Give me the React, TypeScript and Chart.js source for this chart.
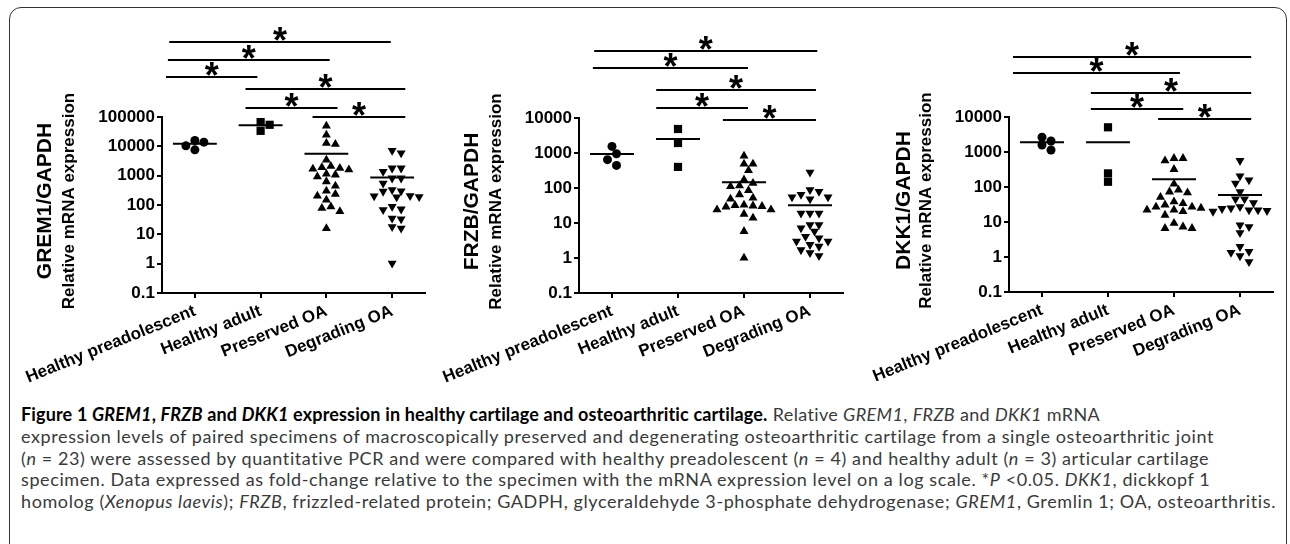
import React, { useEffect, useRef } from 'react';
import { Chart, registerables } from 'chart.js';

Chart.register(...registerables);

// ---------- data ----------
const groups = ['Healthy preadolescent', 'Healthy adult', 'Preserved OA', 'Degrading OA'];
const yTicksGrem = [0.1, 1, 10, 100, 1000, 10000, 100000];
const yTicksSmall = [0.1, 1, 10, 100, 1000, 10000];

const grem1Preadolescent = [13900, 7600, 15800, 10400];
const grem1Adult = [67000, 33800, 54200];
const grem1Preserved = [50000, 24500, 11900, 12900, 3460, 1800, 2100, 1600, 1900, 1700, 1070, 1150, 930, 630, 450, 300, 233, 204, 149, 78, 88, 60, 16];
const grem1Degrading = [7200, 5900, 1800, 1800, 1380, 820, 820, 550, 330, 300, 290, 204, 200, 190, 185, 88, 72, 68, 35, 33, 18, 16, 1.03];
const grem1Means = [12200, 52800, 5550, 860];
const grem1Brackets = [[-0.39, 2.98], [-0.41, 2.05], [-0.44, 0.95], [0.77, 3.2], [0.77, 2.17], [1.79, 3.2]];

const frzbPreadolescent = [1540, 955, 443, 645];
const frzbAdult = [4850, 1930, 400];
const frzbPreserved = [830, 490, 490, 318, 173, 138, 111, 116, 85, 65, 52, 48.5, 33, 31, 30, 32, 29, 24, 24, 18, 14, 5.8, 1.0];
const frzbDegrading = [280, 89, 79, 65, 55, 55, 48.5, 19, 19, 19, 8.9, 8.9, 7.2, 5.8, 4.1, 3.7, 3.0, 3.0, 2.4, 2.14, 1.7, 1.4, 1.16];
const frzbMeans = [930, 2510, 145, 32];
const frzbBrackets = [[-0.27, 3.11], [-0.29, 2.06], [0.67, 3.09], [0.67, 2.06], [1.68, 3.09]];

const dkk1Preadolescent = [2060, 2630, 1140, 1585];
const dkk1Adult = [5080, 141, 245];
const dkk1Preserved = [660, 660, 565, 320, 122, 82, 69, 73, 51, 31, 34, 27, 27, 38, 22, 22, 25, 20, 15.8, 9.2, 7.3, 6.6, 6.6];
const dkk1Degrading = [565, 206, 158, 128, 73, 45, 45, 35, 27, 22, 20, 24, 22, 25, 21, 8.2, 7.3, 4.9, 1.97, 1.42, 1.33, 1.07, 0.73];
const dkk1Means = [1890, 1890, 166, 59];
const dkk1Brackets = [[-0.44, 3.17], [-0.44, 2.09], [0.74, 3.17], [0.74, 2.14], [1.76, 3.17]];

// ---------- panel layout (pixels) ----------
const panels = [
  {
    title: 'GREM1/GAPDH',
    values: [grem1Preadolescent, grem1Adult, grem1Preserved, grem1Degrading],
    means: grem1Means,
    brackets: grem1Brackets,
    yTicks: yTicksGrem,
    canvasLeft: 0, canvasWidth: 432, canvasHeight: 400,
    area: { left: 162, right: 425, top: 117, bottom: 293 },
    rise: [75, 57, 40, 28, 9, 0],
    titleDx: [-117, -93],
  },
  {
    title: 'FRZB/GAPDH',
    values: [frzbPreadolescent, frzbAdult, frzbPreserved, frzbDegrading],
    means: frzbMeans,
    brackets: frzbBrackets,
    yTicks: yTicksSmall,
    canvasLeft: 415, canvasWidth: 435, canvasHeight: 400,
    area: { left: 164, right: 428, top: 118, bottom: 293 },
    rise: [67, 50, 28, 10, -2],
    titleDx: [-107, -83],
  },
  {
    title: 'DKK1/GAPDH',
    values: [dkk1Preadolescent, dkk1Adult, dkk1Preserved, dkk1Degrading],
    means: dkk1Means,
    brackets: dkk1Brackets,
    yTicks: yTicksSmall,
    canvasLeft: 850, canvasWidth: 440, canvasHeight: 400,
    area: { left: 159, right: 423, top: 117, bottom: 292 },
    rise: [60, 44, 24, 8, -2],
    titleDx: [-105, -83],
  },
];

const FONT = '"Liberation Sans", Arial, sans-serif';

function beeswarm(yPix: number[], step: number, minDist: number): number[] {
  const order = yPix.map((_, i) => i).sort((a, b) => yPix[a] - yPix[b]);
  const placed: { x: number; y: number }[] = [];
  const offs = new Array(yPix.length).fill(0);
  for (const i of order) {
    const y = yPix[i];
    let chosen = 0;
    for (let k = 0; k < 60; k++) {
      const cand = k === 0 ? 0 : (k % 2 === 1 ? 1 : -1) * Math.ceil(k / 2) * step;
      if (placed.every((p) => Math.hypot(p.x - cand, p.y - y) >= minDist)) {
        chosen = cand;
        break;
      }
    }
    placed.push({ x: chosen, y });
    offs[i] = chosen;
  }
  return offs;
}

function makeOverlay(cfg: any) {
  return {
    id: 'overlay',
    afterDraw(chart: any) {
      const ctx = chart.ctx;
      const xs = chart.scales.x;
      const ca = chart.chartArea;
      ctx.save();
      ctx.strokeStyle = '#000';
      ctx.fillStyle = '#000';
      ctx.lineWidth = 2;
      ctx.font = `bold 36px ${FONT}`;
      ctx.textAlign = 'center';
      ctx.textBaseline = 'alphabetic';
      const m = ctx.measureText('*');
      cfg.brackets.forEach((b: number[], i: number) => {
        const y = ca.top - cfg.rise[i];
        const x1 = xs.getPixelForValue(b[0]);
        const x2 = xs.getPixelForValue(b[1]);
        ctx.beginPath();
        ctx.moveTo(x1, y);
        ctx.lineTo(x2, y);
        ctx.stroke();
        const baseline = y - 1.5 - m.actualBoundingBoxDescent;
        ctx.fillText('*', (x1 + x2) / 2, baseline);
      });
      const cy = (ca.top + ca.bottom) / 2 - 4;
      ctx.translate(ca.left + cfg.titleDx[0], cy);
      ctx.rotate(-Math.PI / 2);
      ctx.textAlign = 'center';
      ctx.textBaseline = 'middle';
      ctx.font = `bold 21px ${FONT}`;
      ctx.fillText(cfg.title, 0, 0);
      ctx.font = `bold 17px ${FONT}`;
      ctx.fillText('Relative mRNA expression', 0, cfg.titleDx[1] - cfg.titleDx[0]);
      ctx.restore();
    },
  };
}

const shapes = [
  { style: 'circle', r: 4.5, rot: 0 },
  { style: 'rect', r: 5.8, rot: 0 },
  { style: 'triangle', r: 5.2, rot: 0 },
  { style: 'triangle', r: 5.2, rot: 180 },
];

function Panel({ cfg }: { cfg: any }) {
  const ref = useRef<HTMLCanvasElement>(null);
  useEffect(() => {
    const canvas = ref.current!;
    const scatterSets = cfg.values.map((vals: number[], g: number) => ({
      type: 'scatter',
      data: vals.map((v) => ({ x: g, y: v })),
      pointStyle: shapes[g].style,
      pointRadius: shapes[g].r,
      pointHoverRadius: shapes[g].r,
      pointRotation: shapes[g].rot,
      backgroundColor: '#000',
      borderColor: '#000',
      borderWidth: 0,
      showLine: false,
    }));
    const meanSets = cfg.means.map((mv: number, g: number) => ({
      type: 'line',
      data: [{ x: g - 1 / 3, y: mv }, { x: g + 1 / 3, y: mv }],
      borderColor: '#000',
      borderWidth: 2,
      pointRadius: 0,
      fill: false,
    }));
    const a = cfg.area;
    const axisCommon = {
      grid: { display: true, drawOnChartArea: false, drawTicks: true, tickLength: 5, color: '#000', lineWidth: 2 },
      border: { display: true, color: '#000', width: 2 },
    };
    const chart = new Chart(canvas, {
      type: 'scatter',
      data: { datasets: [...scatterSets, ...meanSets] as any },
      options: {
        animation: false,
        responsive: false,
        events: [],
        layout: { padding: { left: 0, top: a.top, right: cfg.canvasWidth - a.right, bottom: 0 } },
        plugins: { legend: { display: false }, tooltip: { enabled: false } },
        scales: {
          x: {
            type: 'linear',
            min: -0.5,
            max: 3.5,
            ...axisCommon,
            afterBuildTicks: (s: any) => {
              s.ticks = [0, 1, 2, 3].map((v) => ({ value: v }));
            },
            afterFit: (s: any) => {
              s.height = cfg.canvasHeight - a.bottom;
              s.paddingLeft = 0;
              s.paddingRight = 0;
            },
            ticks: {
              autoSkip: false,
              minRotation: 22,
              maxRotation: 22,
              padding: 3,
              color: '#000',
              font: { family: FONT, size: 17, weight: 'bold' },
              callback: (v: any) => groups[Math.round(v)],
            },
          },
          y: {
            type: 'logarithmic',
            min: cfg.yTicks[0],
            max: cfg.yTicks[cfg.yTicks.length - 1],
            ...axisCommon,
            afterBuildTicks: (s: any) => {
              s.ticks = cfg.yTicks.map((v: number) => ({ value: v }));
            },
            afterFit: (s: any) => {
              s.width = a.left;
              s.paddingTop = 0;
              s.paddingBottom = 0;
            },
            ticks: {
              padding: 2,
              color: '#000',
              font: { family: FONT, size: 17, weight: 'bold' },
              callback: (v: any) => String(v),
            },
          },
        },
      } as any,
      plugins: [makeOverlay(cfg)],
    });

    const ys = chart.scales.y;
    const xs = chart.scales.x;
    const pxPerUnit = xs.width / 4;
    cfg.values.forEach((vals: number[], g: number) => {
      const offs = beeswarm(vals.map((v) => ys.getPixelForValue(v)), 4.5, 7.5);
      (chart.data.datasets[g] as any).data = vals.map((v, i) => ({ x: g + offs[i] / pxPerUnit, y: v }));
    });
    chart.update('none');
    return () => chart.destroy();
  }, [cfg]);
  return (
    <canvas
      ref={ref}
      width={cfg.canvasWidth}
      height={cfg.canvasHeight}
      style={{ position: 'absolute', left: cfg.canvasLeft, top: 0, width: cfg.canvasWidth, height: cfg.canvasHeight }}
    />
  );
}

const capStyle: React.CSSProperties = { whiteSpace: 'nowrap', height: 21.8, lineHeight: '21.8px' };
const boldStyle: React.CSSProperties = { color: '#000', letterSpacing: '0.15px' };

export default function App() {
  return (
    <div style={{ position: 'fixed', left: 0, top: 0, width: 1290, height: 544, overflow: 'hidden', background: '#fff' }}>
      <div
        style={{
          position: 'absolute', left: 9, top: 7, width: 1278, height: 600, boxSizing: 'border-box',
          border: '1.5px solid #333', borderRadius: 12,
        }}
      />
      {panels.map((p, i) => (
        <Panel key={i} cfg={p} />
      ))}
      <div
        style={{
          position: 'absolute', left: 21, top: 404, fontFamily: 'Lato, "Open Sans", sans-serif', fontSize: 18,
          color: '#3a3a3a', letterSpacing: '0.6px',
        }}
      >
        <div style={capStyle}>
          <b style={boldStyle}>
            Figure 1 <i>GREM1</i>, <i>FRZB</i> and <i>DKK1</i> expression in healthy cartilage and osteoarthritic cartilage.
          </b>{' '}
          <span style={{ letterSpacing: '0.35px' }}>
            Relative <i>GREM1</i>, <i>FRZB</i> and <i>DKK1</i> mRNA
          </span>
        </div>
        <div style={capStyle}>
          expression levels of paired specimens of macroscopically preserved and degenerating osteoarthritic cartilage from a single osteoarthritic joint
        </div>
        <div style={capStyle}>
          (<i>n</i> = 23) were assessed by quantitative PCR and were compared with healthy preadolescent (<i>n</i> = 4) and healthy adult (<i>n</i> = 3) articular cartilage
        </div>
        <div style={capStyle}>
          specimen. Data expressed as fold-change relative to the specimen with the mRNA expression level on a log scale. *<i>P</i> &lt;0.05. <i>DKK1</i>, dickkopf 1
        </div>
        <div style={capStyle}>
          homolog (<i>Xenopus laevis</i>); <i>FRZB</i>, frizzled-related protein; GADPH, glyceraldehyde 3-phosphate dehydrogenase; <i>GREM1</i>, Gremlin 1; OA, osteoarthritis.
        </div>
      </div>
    </div>
  );
}
